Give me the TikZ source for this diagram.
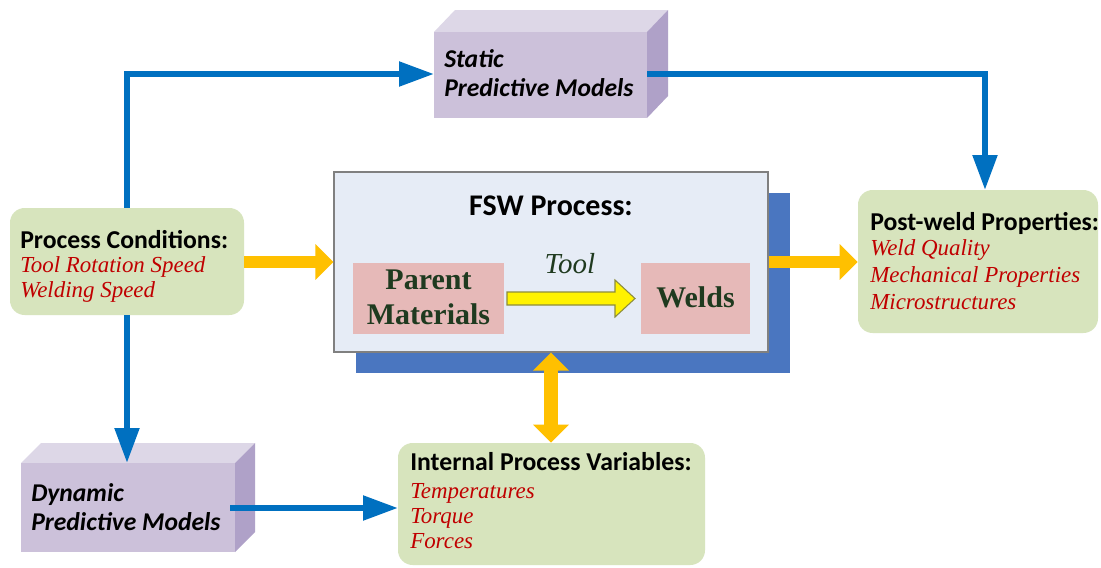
\documentclass[tikz,border=0pt]{standalone}
\usepackage{fontspec}
\setmainfont{Liberation Serif}
\setsansfont{Carlito}
\usetikzlibrary{arrows.meta,fit}
\definecolor{boxgreen}{HTML}{D7E4BD}
\definecolor{pfront}{HTML}{CCC1DA}
\definecolor{ptop}{HTML}{DDD7E7}
\definecolor{pside}{HTML}{AFA1C8}
\definecolor{fswfront}{HTML}{E6ECF6}
\definecolor{fswshadow}{HTML}{4A76C0}
\definecolor{pinkbox}{HTML}{E6B9B8}
\definecolor{arrowblue}{HTML}{0070C0}
\definecolor{gold}{HTML}{FFC000}
\definecolor{redtext}{HTML}{C00000}
\definecolor{darkgreen}{HTML}{1F3A1F}
\definecolor{olive}{HTML}{8C8C3C}
\begin{document}
\begin{tikzpicture}[x=0.75pt,y=-0.75pt,
  gbox/.style={fill=boxgreen, draw=none, rounded corners=11pt, inner sep=0pt},
  head/.style={font=\sffamily\bfseries\fontsize{19.3pt}{21pt}\selectfont, anchor=base west, inner sep=0pt},
  item/.style={font=\itshape\fontsize{17.2pt}{19pt}\selectfont, text=redtext, anchor=base west, inner sep=0pt},
  model/.style={font=\sffamily\bfseries\itshape\fontsize{19.2pt}{21pt}\selectfont, anchor=base west, inner sep=0pt},
  mat/.style={font=\bfseries\fontsize{22.5pt}{24pt}\selectfont, text=darkgreen, anchor=base, inner sep=0pt},
  barrow/.style={draw=arrowblue, line width=3.9pt, line join=miter, -{Triangle[length=26pt,width=18pt]}},
  garrow/.style={draw=gold, line width=9pt, -{Triangle[length=13.5pt,width=26pt]}},
]
\useasboundingbox (0,0) rectangle (1101,568);
\fill[white] (0,0) rectangle (1101,568);

% Static predictive models (3D box)
\fill[ptop] (434,32) -- (455,10) -- (668,10) -- (647,32) -- cycle;
\fill[pside] (647,32) -- (668,10) -- (668,96) -- (647,118) -- cycle;
\node[fill=pfront, inner sep=0pt, fit={(434,32) (647,118)}] (spm) {};
\node[model] (spm1) at (444,67) {Static};
\node[model] (spm2) at (444,96) {Predictive Models};

% Dynamic predictive models (3D box)
\fill[ptop] (21,463) -- (41,443) -- (255,443) -- (235,463) -- cycle;
\fill[pside] (235,463) -- (255,443) -- (255,532) -- (235,552) -- cycle;
\node[fill=pfront, inner sep=0pt, fit={(21,463) (235,552)}] (dpm) {};
\node[model] (dpm1) at (31,501) {Dynamic};
\node[model] (dpm2) at (31,530) {Predictive Models};

% Process conditions
\node[gbox, fit={(10,208) (244,315)}] (pc) {};
\node[head] (pc0) at (20,248) {Process Conditions:};
\node[item] (pc1) at (20,272) {Tool Rotation Speed};
\node[item] (pc2) at (20,297) {Welding Speed};

% Post-weld properties
\node[gbox, fit={(858,190) (1098,333)}] (pw) {};
\node[head] (pw0) at (870,230) {Post-weld Properties:};
\node[item] (pw1) at (870,255) {Weld Quality};
\node[item] (pw2) at (870,282) {Mechanical Properties};
\node[item] (pw3) at (870,309) {Microstructures};

% Internal process variables
\node[gbox, fit={(398,443) (705,565)}] (ipv) {};
\node[head] (ipv0) at (410,470) {Internal Process Variables:};
\node[item] (ipv1) at (410,498) {Temperatures};
\node[item] (ipv2) at (410,523) {Torque};
\node[item] (ipv3) at (410,548) {Forces};

% FSW process
\node[fill=fswshadow, inner sep=0pt, fit={(356,193) (790,373)}] (fshadow) {};
\node[fill=fswfront, draw=gray, line width=0.9pt, inner sep=0pt, fit={(334,172) (768,352)}] (fsw) {};
\node[font=\sffamily\bfseries\fontsize{22.5pt}{24pt}\selectfont, anchor=base, inner sep=0pt] (fswt) at (551,215) {FSW Process:};
\node[fill=pinkbox, inner sep=0pt, fit={(353,263) (504,334)}] (pm) {};
\node[mat] (pm1) at (428.5,289) {Parent};
\node[mat] (pm2) at (428.5,324) {Materials};
\node[fill=pinkbox, inner sep=0pt, fit={(641,263) (750,334)}] (wd) {};
\node[mat] (wd1) at (695.5,307) {Welds};
\node[font=\itshape\fontsize{21.75pt}{23pt}\selectfont, text=darkgreen, anchor=base, inner sep=0pt] (tool) at (570,273) {Tool};
\draw[fill=yellow, draw=olive, line width=0.8pt] (507,292) -- (615,292) -- (615,280) -- (635,298.5) -- (615,317) -- (615,305) -- (507,305) -- cycle;

% Blue connectors
\draw[barrow] (pc.north -| 127,0) -- (127,74) -- (spm.west |- 0,74);
\draw[barrow] (spm.east |- 0,74) -- (985,74) -- (pw.north -| 985,0);
\draw[barrow] (pc.south -| 127,0) -- (dpm.north -| 127,0);
\draw[barrow] (230,508) -- (ipv.west |- 0,508);

% Gold connectors
\draw[garrow] (pc.east |- 0,262) -- (fsw.west |- 0,262);
\draw[garrow] (fsw.east |- 0,262) -- (pw.west |- 0,262);
\draw[draw=gold, line width=10.5pt, {Triangle[length=13.5pt,width=26pt]}-{Triangle[length=13.5pt,width=26pt]}] (fsw.south -| 551,0) -- (ipv.north -| 551,0);
\end{tikzpicture}
\end{document}
